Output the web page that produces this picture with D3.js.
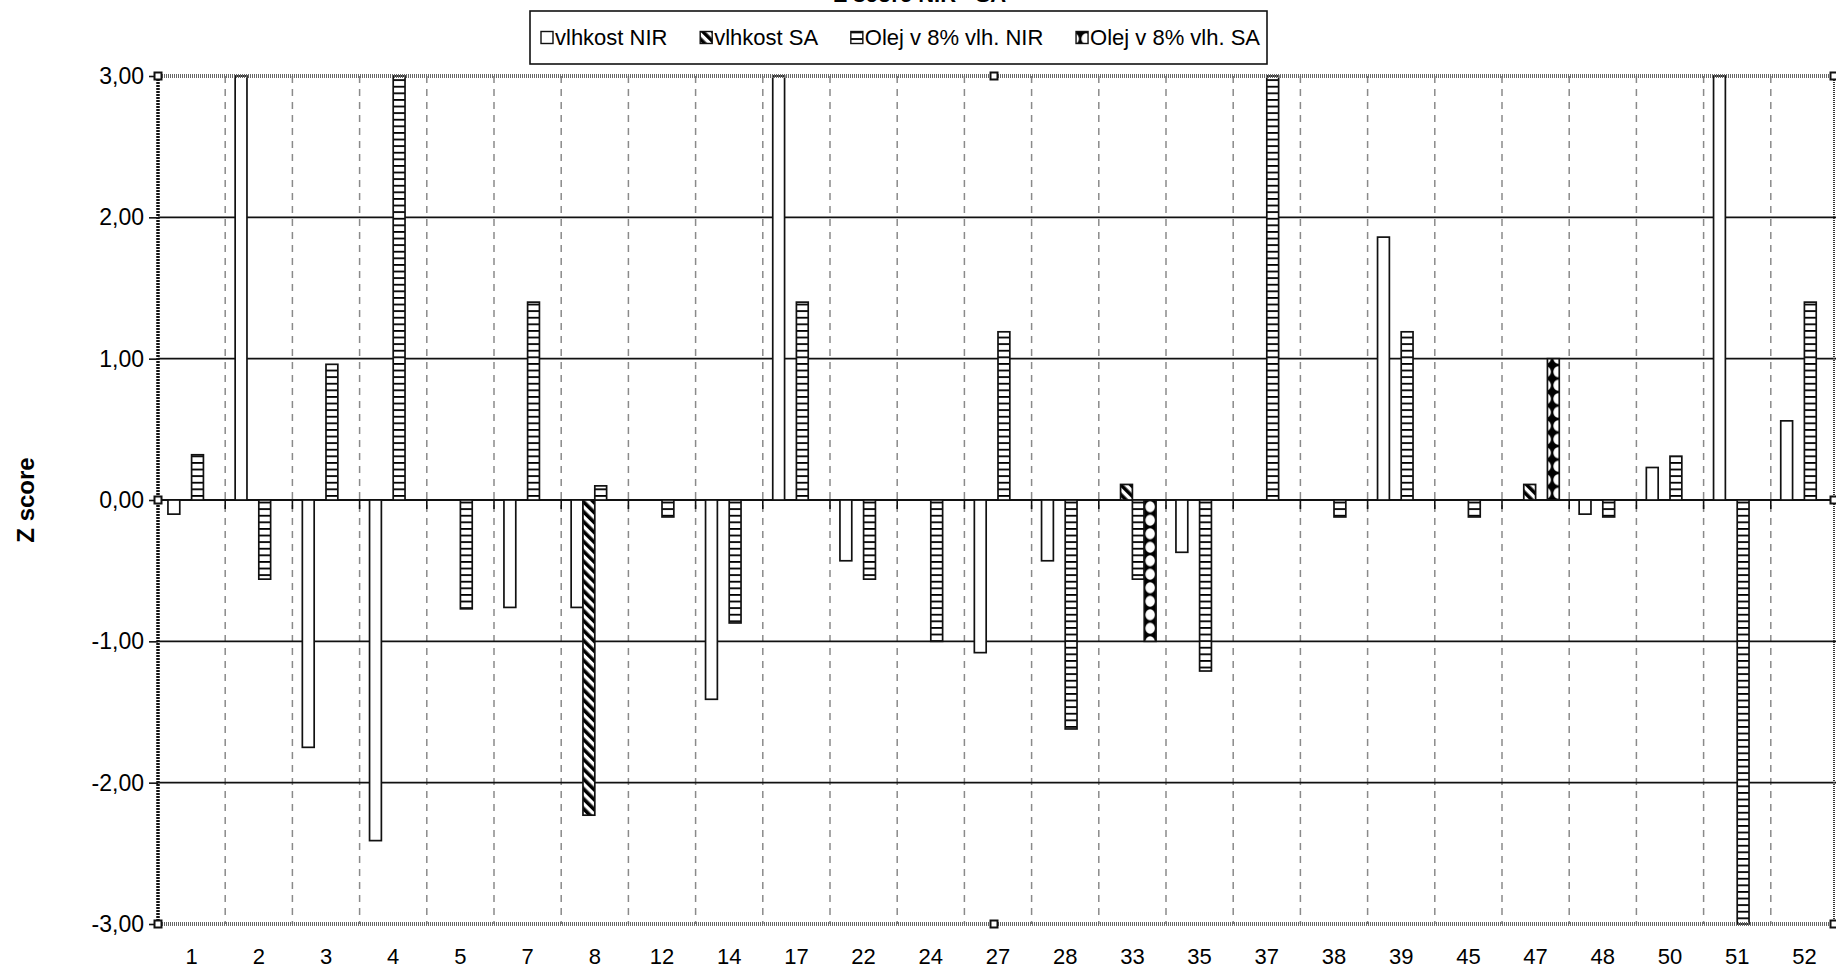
<!DOCTYPE html>
<html>
<head>
<meta charset="utf-8">
<script src="https://cdn.jsdelivr.net/npm/d3@7"></script>
<style>
  html, body { margin: 0; padding: 0; background: #fff; overflow: hidden; }
  svg { display: block; font-family: "Liberation Sans", Arial, sans-serif; }
</style>
</head>
<body>
<svg id="chart" width="1836" height="970"></svg>
<script>
// ---------------- DATA ----------------
const categories = ["1","2","3","4","5","7","8","12","14","17","22","24","27","28","33","35","37","38","39","45","47","48","50","51","52"];
const seriesNames = ["vlhkost NIR", "vlhkost SA", "Olej v 8% vlh. NIR", "Olej v 8% vlh. SA"];
const vlhkostNIR = [-0.10, 3.00, -1.75, -2.41, null, -0.76, -0.76, null, -1.41, 3.00, -0.43, null, -1.08, -0.43, null, -0.37, null, null, 1.86, null, null, -0.10, 0.23, 3.00, 0.56];
const vlhkostSA  = [null, null, null, null, null, null, -2.23, null, null, null, null, null, null, null, 0.11, null, null, null, null, null, 0.11, null, null, null, null];
const olejNIR    = [0.32, -0.56, 0.96, 3.00, -0.77, 1.40, 0.10, -0.12, -0.87, 1.40, -0.56, -1.00, 1.19, -1.62, -0.56, -1.21, 3.00, -0.12, 1.19, -0.12, null, -0.12, 0.31, -3.00, 1.40];
const olejSA     = [null, null, null, null, null, null, null, null, null, null, null, null, null, null, -1.00, null, null, null, null, null, 1.00, null, null, null, null];
const yTicks = [-3, -2, -1, 0, 1, 2, 3];
const chartTitle = "Z score NIR - SA";
const yTitle = "Z score";

const seriesValues = [vlhkostNIR, vlhkostSA, olejNIR, olejSA];
const seriesFill = ["#fff", "url(#pStripes)", "url(#pLines)", "url(#pDots)"];

// ---------------- LAYOUT ----------------
const svg = d3.select("#chart");
const plot = { left: 158, right: 1838, top: 76, bottom: 924 };

const x0 = d3.scaleBand().domain(categories).range([plot.left, plot.right]).paddingInner(0).paddingOuter(0);
const bw = x0.bandwidth();
const x1 = d3.scaleBand().domain(seriesNames).range([bw * 0.148, bw * 0.852]);
const y = d3.scaleLinear().domain([-3, 3]).range([plot.bottom, plot.top]);

const fmt = d => (d < 0 ? "-" : "") + Math.abs(d).toFixed(2).replace(".", ",");

// ---------------- PATTERNS ----------------
const defs = svg.append("defs");
const pS = defs.append("pattern").attr("id", "pStripes").attr("patternUnits", "userSpaceOnUse")
  .attr("width", 7).attr("height", 7).attr("patternTransform", "rotate(-45)");
pS.append("rect").attr("width", 7).attr("height", 7).attr("fill", "#fff");
pS.append("rect").attr("width", 3.6).attr("height", 7).attr("fill", "#000");

const pL = defs.append("pattern").attr("id", "pLines").attr("patternUnits", "userSpaceOnUse")
  .attr("width", 10).attr("height", 6.6);
pL.append("rect").attr("width", 10).attr("height", 6.6).attr("fill", "#fff");
pL.append("rect").attr("width", 10).attr("height", 1.8).attr("fill", "#000");

const dotX = x0("33") + x1(seriesNames[3]) + x1.bandwidth() / 2 - 6;
const pD = defs.append("pattern").attr("id", "pDots").attr("patternUnits", "userSpaceOnUse")
  .attr("x", dotX).attr("y", y(0)).attr("width", 12).attr("height", 13.5);
pD.append("rect").attr("width", 12).attr("height", 13.5).attr("fill", "#000");
pD.append("ellipse").attr("cx", 6).attr("cy", 6.75).attr("rx", 4.8).attr("ry", 5.6).attr("fill", "#fff");

defs.append("clipPath").attr("id", "plotClip").append("rect")
  .attr("x", plot.left).attr("y", plot.top - 1)
  .attr("width", plot.right - plot.left).attr("height", plot.bottom - plot.top + 2);

// ---------------- TITLE (cut at the top) ----------------
svg.append("text").attr("x", 920).attr("y", 1.5).attr("text-anchor", "middle")
  .attr("font-size", 22).attr("font-weight", "bold").text(chartTitle);

// ---------------- GRID ----------------
const g = svg.append("g");

g.append("g").selectAll("line").data(categories.slice(1)).join("line")
  .attr("x1", d => x0(d)).attr("x2", d => x0(d))
  .attr("y1", plot.top).attr("y2", plot.bottom)
  .attr("stroke", "#8a8a8a").attr("stroke-width", 1.5).attr("stroke-dasharray", "7,6");

g.append("g").selectAll("line").data(yTicks.filter(d => d > -3 && d < 3)).join("line")
  .attr("x1", plot.left).attr("x2", plot.right)
  .attr("y1", d => y(d)).attr("y2", d => y(d))
  .attr("stroke", "#111").attr("stroke-width", d => d === 0 ? 2 : 1.7);

g.append("g").selectAll("line").data(categories.slice(1)).join("line")
  .attr("x1", d => x0(d)).attr("x2", d => x0(d))
  .attr("y1", y(0)).attr("y2", y(0) + 9)
  .attr("stroke", "#111").attr("stroke-width", 1.6);

// ---------------- BARS ----------------
const bars = svg.append("g").attr("clip-path", "url(#plotClip)");
seriesNames.forEach((name, si) => {
  const data = categories.map((c, i) => ({ c, v: seriesValues[si][i] })).filter(d => d.v !== null);
  bars.append("g").selectAll("rect").data(data).join("rect")
    .attr("x", d => x0(d.c) + x1(name))
    .attr("width", x1.bandwidth())
    .attr("y", d => y(Math.max(0, d.v)))
    .attr("height", d => Math.abs(y(d.v) - y(0)))
    .attr("fill", seriesFill[si])
    .attr("stroke", "#111").attr("stroke-width", 1.7);
});

// ---------------- AXES ----------------
const yAxis = svg.append("g").attr("transform", `translate(${plot.left},0)`)
  .call(d3.axisLeft(y).tickValues(yTicks).tickFormat(fmt).tickSize(9).tickPadding(5));
yAxis.select(".domain").remove();
yAxis.selectAll(".tick line").attr("stroke", "#111").attr("stroke-width", 1.6);
yAxis.selectAll(".tick text").attr("font-size", 23).attr("fill", "#000")
  .attr("font-family", "'Liberation Sans', Arial, sans-serif");

const xAxis = svg.append("g").attr("transform", `translate(0,${plot.bottom})`)
  .call(d3.axisBottom(x0).tickSize(0).tickPadding(24));
xAxis.select(".domain").remove();
xAxis.selectAll(".tick text").attr("font-size", 22).attr("fill", "#000")
  .attr("font-family", "'Liberation Sans', Arial, sans-serif");

// plot area border (selected look)
const border = svg.append("g");
const visRight = 1834;
border.append("line").attr("x1", plot.left).attr("x2", visRight).attr("y1", plot.top).attr("y2", plot.top)
  .attr("stroke", "#666").attr("stroke-width", 4).attr("stroke-dasharray", "1,1");
border.append("line").attr("x1", plot.left).attr("x2", visRight).attr("y1", plot.bottom).attr("y2", plot.bottom)
  .attr("stroke", "#666").attr("stroke-width", 4).attr("stroke-dasharray", "1,1");
border.append("line").attr("x1", plot.left).attr("x2", plot.left).attr("y1", plot.top).attr("y2", plot.bottom)
  .attr("stroke", "#111").attr("stroke-width", 3.5).attr("stroke-dasharray", "2,1");
border.append("line").attr("x1", visRight).attr("x2", visRight).attr("y1", plot.top).attr("y2", plot.bottom)
  .attr("stroke", "#333").attr("stroke-width", 2).attr("stroke-dasharray", "1,1");

const midX = (plot.left + plot.right) / 2 - 4;
const handles = [
  [plot.left, plot.top], [midX, plot.top], [visRight, plot.top],
  [plot.left, y(0)], [visRight, y(0)],
  [plot.left, plot.bottom], [midX, plot.bottom], [visRight, plot.bottom]
];
border.selectAll("rect.h").data(handles).join("rect").attr("class", "h")
  .attr("x", d => d[0] - 3.5).attr("y", d => d[1] - 3.5).attr("width", 7).attr("height", 7)
  .attr("fill", "#fff").attr("stroke", "#111").attr("stroke-width", 2);

// y axis title
svg.append("text").attr("transform", `translate(34,${y(0)}) rotate(-90)`)
  .attr("text-anchor", "middle").attr("font-size", 24).attr("font-weight", "bold").text(yTitle);

// ---------------- LEGEND ----------------
const lg = svg.append("g");
const box = { x: 530, y: 11, w: 737, h: 53 };
lg.append("rect").attr("x", box.x).attr("y", box.y).attr("width", box.w).attr("height", box.h)
  .attr("fill", "#fff").attr("stroke", "#111").attr("stroke-width", 1.6);
const items = lg.selectAll("g.item").data(seriesNames).join("g").attr("class", "item");
items.append("rect").attr("class", "mk").attr("width", 12).attr("height", 12)
  .attr("fill", (d, i) => seriesFill[i]).attr("stroke", "#111").attr("stroke-width", 1.4);
items.append("text").attr("font-size", 22).attr("x", 14).attr("y", 6).attr("dy", "0.35em").text(d => d);
const widths = [];
items.each(function () { widths.push(14 + d3.select(this).select("text").node().getComputedTextLength()); });
const padL = 11, padR = 7;
const gap = (box.w - padL - padR - d3.sum(widths)) / (seriesNames.length - 1);
let cx = box.x + padL;
items.each(function (d, i) {
  d3.select(this).attr("transform", `translate(${cx},${box.y + box.h / 2 - 6})`);
  cx += widths[i] + gap;
});
</script>
</body>
</html>
